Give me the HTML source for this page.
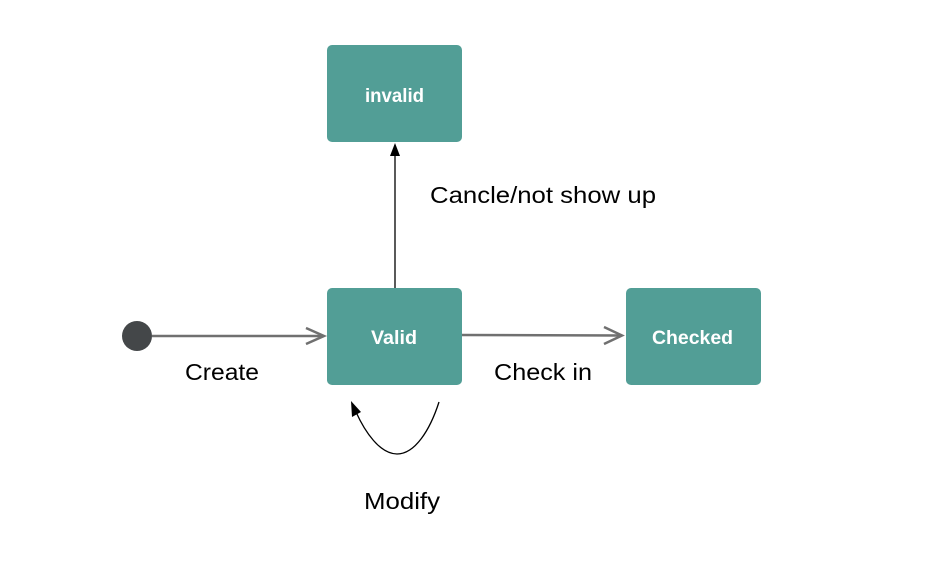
<!DOCTYPE html>
<html><head><style>
html,body{margin:0;padding:0;background:#fff;width:930px;height:564px;overflow:hidden}
</style></head><body>
<svg width="930" height="564" xmlns="http://www.w3.org/2000/svg" font-family="Liberation Sans, sans-serif">
<rect x="327" y="45" width="135" height="97" rx="5" fill="#529e96"/>
<rect x="327" y="288" width="135" height="97" rx="5" fill="#529e96"/>
<rect x="626" y="288" width="135" height="97" rx="5" fill="#529e96"/>
<text x="365" y="102" textLength="59" lengthAdjust="spacingAndGlyphs" fill="#fff" font-weight="bold" font-size="19">invalid</text>
<text x="371" y="344" textLength="46" lengthAdjust="spacingAndGlyphs" fill="#fff" font-weight="bold" font-size="19">Valid</text>
<text x="652" y="344" textLength="81" lengthAdjust="spacingAndGlyphs" fill="#fff" font-weight="bold" font-size="19">Checked</text>
<circle cx="137" cy="336" r="15" fill="#444749"/>
<line x1="152" y1="336" x2="324" y2="336" stroke="#707070" stroke-width="2.5"/>
<polyline points="306,328 324,336 306,344" fill="none" stroke="#707070" stroke-width="2.5"/>
<line x1="462" y1="335" x2="622" y2="335.5" stroke="#707070" stroke-width="2.5"/>
<polyline points="604,327 622,335.5 604,344" fill="none" stroke="#707070" stroke-width="2.5"/>
<line x1="395" y1="288" x2="395" y2="152" stroke="#000" stroke-width="1.3"/>
<polygon points="395,143 390,156 400,156" fill="#000"/>
<path d="M439,402 C430,430 415,454 397,454 C380,454 365,432 356,412" fill="none" stroke="#000" stroke-width="1.3"/>
<polygon points="351,401 352,417 361,412" fill="#000"/>
<g font-size="23" fill="#000" lengthAdjust="spacingAndGlyphs">
<text x="185" y="380" textLength="74" lengthAdjust="spacingAndGlyphs">Create</text>
<text x="494" y="380" textLength="98" lengthAdjust="spacingAndGlyphs">Check in</text>
<text x="430" y="203" textLength="226" lengthAdjust="spacingAndGlyphs">Cancle/not show up</text>
<text x="364" y="509" textLength="76" lengthAdjust="spacingAndGlyphs">Modify</text>
</g>
</svg>
</body></html>
